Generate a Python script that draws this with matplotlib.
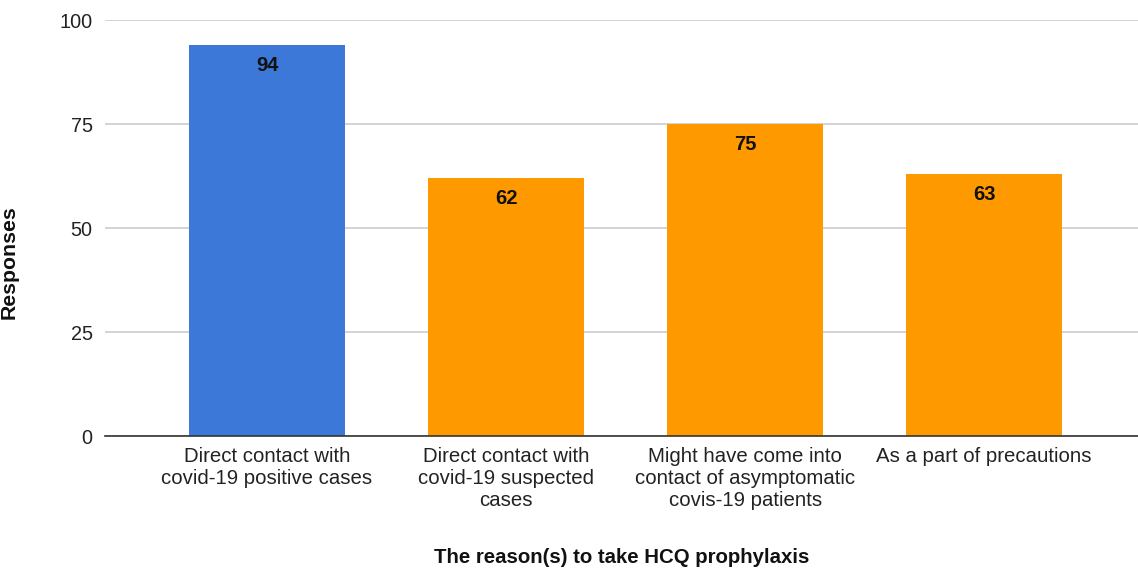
import matplotlib
matplotlib.use("Agg")
import matplotlib.pyplot as plt

plt.rcParams["font.family"] = ["Liberation Sans", "DejaVu Sans"]

categories = [
    "Direct contact with\ncovid-19 positive cases",
    "Direct contact with\ncovid-19 suspected\ncases",
    "Might have come into\ncontact of asymptomatic\ncovis-19 patients",
    "As a part of precautions",
]
responses = [94, 62, 75, 63]
colors = ["#3c78d8", "#ff9900", "#ff9900", "#ff9900"]

fig = plt.figure(figsize=(11.38, 5.69), dpi=100)
ax = fig.add_axes([105 / 1138, 1 - 436 / 569, 1033 / 1138, 416 / 569])

x = list(range(len(categories)))
bars = ax.bar(x, responses, width=0.653, color=colors, zorder=3)

for b, v in zip(bars, responses):
    ax.annotate(str(v), (b.get_x() + b.get_width() / 2, v),
                xytext=(0, -14.5), textcoords="offset points",
                ha="center", va="center", fontsize=14.5, fontweight="bold",
                color="#111111", zorder=4)

ax.set_xlim(-0.678, 3.644)
ax.set_ylim(0, 100)
ax.set_yticks([0, 25, 50, 75, 100])
ax.set_xticks(x)
ax.set_xticklabels(categories, fontsize=14.7, color="#222222", linespacing=1.2)
ax.tick_params(axis="y", length=0, pad=9, labelsize=14.3, labelcolor="#222222")
ax.tick_params(axis="x", length=0, pad=8)

ax.grid(axis="y", color="#cccccc", linewidth=1.2, zorder=0)
for s in ["top", "right", "left"]:
    ax.spines[s].set_visible(False)
ax.spines["bottom"].set_color("#333333")
ax.spines["bottom"].set_linewidth(1.2)
ax.spines["bottom"].set_zorder(5)

ax.set_ylabel("Responses", fontsize=15.3, fontweight="bold", color="#111111")
ax.yaxis.set_label_coords(-0.084, 0.418)
ax.set_xlabel("The reason(s) to take HCQ prophylaxis", fontsize=14.7,
              fontweight="bold", color="#111111")
ax.xaxis.set_label_coords(0.5, -0.27)

fig.savefig("out.png", dpi=100)
plt.close(fig)
